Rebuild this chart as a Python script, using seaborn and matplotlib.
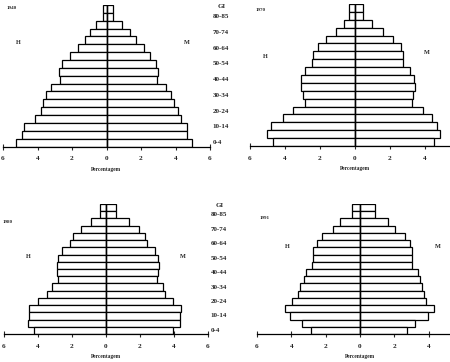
import numpy as np
import pandas as pd
import matplotlib
matplotlib.use('Agg')
import matplotlib.pyplot as plt
import seaborn as sns

## Piramides etarias (H = homens, M = mulheres), percentagem por grupo de idade

# age groups, from the top bar (oldest) down to the bottom bar
ages = ['85+', '80-84', '75-79', '70-74', '65-69', '60-64', '55-59', '50-54', '45-49',
        '40-44', '35-39', '30-34', '25-29', '20-24', '15-19', '10-14', '5-9', '0-4']

# labels printed on the right side of the left pyramids
age_labels = ['80-85', '70-74', '60-64', '50-54', '40-44', '30-34', '20-24', '10-14', '0-4']
age_label_rows = ['80-84', '70-74', '60-64', '50-54', '40-44', '30-34', '20-24', '10-14', '0-4']

years = ['1940', '1970', '1980', '1991']

h_1940 = [0.19, 0.19, 0.58, 0.96, 1.27, 1.65, 2.12, 2.56, 2.75, 2.69, 3.23, 3.48, 3.67, 3.81, 4.13, 4.81, 4.90, 5.25]
m_1940 = [0.38, 0.38, 0.90, 1.38, 1.73, 2.15, 2.54, 2.88, 3.01, 2.92, 3.46, 3.75, 3.94, 4.17, 4.33, 4.65, 4.69, 4.98]

h_1970 = [0.32, 0.32, 0.61, 1.10, 1.66, 2.13, 2.42, 2.48, 2.86, 3.09, 3.09, 2.95, 2.86, 3.52, 4.13, 4.80, 5.05, 4.67]
m_1970 = [0.48, 0.48, 0.95, 1.62, 2.15, 2.61, 2.72, 2.76, 3.14, 3.39, 3.43, 3.33, 3.24, 3.90, 4.38, 4.70, 4.86, 4.53]

h_1980 = [0.35, 0.35, 0.90, 1.49, 1.92, 2.12, 2.61, 2.80, 2.90, 2.86, 2.80, 3.20, 3.49, 3.98, 4.51, 4.53, 4.57, 4.22]
m_1980 = [0.57, 0.57, 1.37, 1.96, 2.29, 2.39, 2.88, 3.08, 3.14, 3.08, 3.02, 3.33, 3.47, 3.92, 4.39, 4.35, 4.35, 3.96]

h_1991 = [0.44, 0.44, 1.16, 1.55, 2.19, 2.51, 2.71, 2.71, 2.77, 3.13, 3.29, 3.48, 3.64, 3.97, 4.35, 4.10, 3.38, 2.84]
m_1991 = [0.87, 0.87, 1.64, 2.03, 2.61, 2.94, 3.04, 3.00, 3.04, 3.35, 3.48, 3.64, 3.73, 3.87, 4.31, 3.97, 3.23, 2.71]

x_ticks = [-6, -4, -2, 0, 2, 4, 6]
# the right-hand pyramids are cut by the page edge before the 6 tick
x_ticks_cut = [-6, -4, -2, 0, 2, 4]

sns.set_style('white')
plt.rcParams['font.family'] = ['Liberation Serif', 'DejaVu Serif']
plt.rcParams['font.weight'] = 'bold'

W, H = 450, 362
fig = plt.figure(figsize=(W / 100, H / 100), dpi=100)


def px_axes(left, right, top, bottom):
    # place an axes using pixel edges of the picture
    return fig.add_axes([left / W, 1 - bottom / H, (right - left) / W, (bottom - top) / H])


def pyramid(ax, men, women, show_ages, ticks):
    # long-form table: men to the left (negative), women to the right
    df = pd.DataFrame({
        'age': ages * 2,
        'value': [-v for v in men] + list(women),
        'sex': ['H'] * len(ages) + ['M'] * len(ages),
    })
    sns.barplot(data=df, x='value', y='age', hue='sex', order=ages, orient='h',
                dodge=False, width=1, palette=['white', 'white'], edgecolor='black',
                linewidth=0.9, errorbar=None, legend=False, ax=ax)
    ax.axvline(0, color='black', lw=1.0, zorder=5)
    ax.set_xlim(-6, 6)
    ax.set_ylim(len(ages) - 0.5, -0.5)
    ax.set_xticks(ticks)
    ax.set_xticklabels([str(abs(t)) for t in ticks])
    ax.set_yticks([])
    ax.set_ylabel('')
    ax.set_xlabel('Percentagem', fontsize=4, fontweight='bold', labelpad=4)
    ax.tick_params(axis='x', direction='inout', length=4, width=0.8, labelsize=5.2, pad=5,
                   bottom=True)
    for side in ['left', 'top', 'right']:
        ax.spines[side].set_visible(False)
    ax.spines['bottom'].set_linewidth(0.9)
    ax.spines['bottom'].set_color('black')
    ax.patch.set_alpha(0)
    if show_ages:
        ax.text(6.45, -0.3, 'GI', fontsize=5, ha='left', va='center')
        for lab, row in zip(age_labels, age_label_rows):
            ax.text(6.15, ages.index(row), lab, fontsize=5, ha='left', va='center')


ax1 = px_axes(3, 210, 5, 146.5)
pyramid(ax1, h_1940, m_1940, True, x_ticks)
ax2 = px_axes(250, 460, 4, 146)
pyramid(ax2, h_1970, m_1970, False, x_ticks_cut)
ax3 = px_axes(4, 208, 204, 334)
pyramid(ax3, h_1980, m_1980, True, x_ticks)
ax4 = px_axes(257, 463, 204, 334)
pyramid(ax4, h_1991, m_1991, False, x_ticks_cut)

# year and sex labels, placed in picture pixels
year_pos = [(7, 8), (256, 10), (3, 222), (260, 218)]
h_pos = [(18, 43), (265, 56), (28, 257), (287, 247)]
m_pos = [(187, 43), (427, 52), (183, 257), (438, 247)]
for yr, (yx, yy), (hx, hy), (mx, my) in zip(years, year_pos, h_pos, m_pos):
    fig.text(yx / W, 1 - yy / H, yr, fontsize=3.6, ha='left', va='center')
    fig.text(hx / W, 1 - hy / H, 'H', fontsize=4.5, ha='center', va='center')
    fig.text(mx / W, 1 - my / H, 'M', fontsize=4.5, ha='center', va='center')

fig.savefig('out.png', dpi=100)
